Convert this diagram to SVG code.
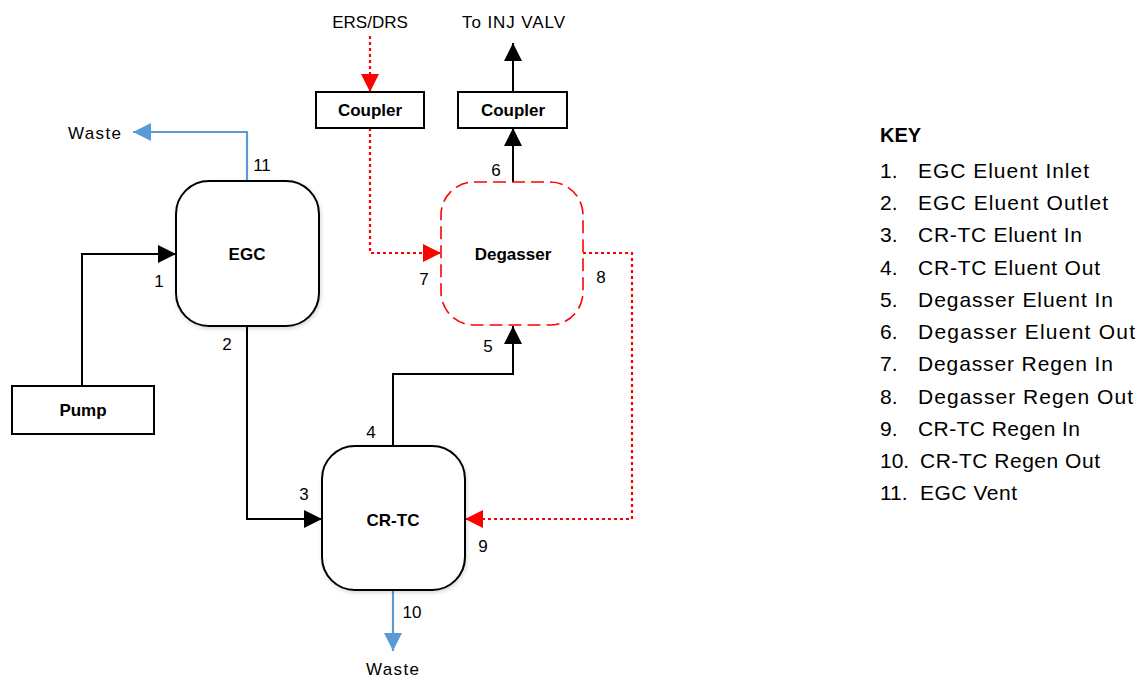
<svg xmlns="http://www.w3.org/2000/svg" width="1141" height="679" viewBox="0 0 1141 679">
<defs>
<style>
text{font-family:"Liberation Sans",Arial,sans-serif;fill:#000}
.lbl{font-size:17px}
.node{font-size:17px;font-weight:bold;text-anchor:middle}
.key{font-size:21px}
.blk{fill:none;stroke:#000;stroke-width:2}
.red{fill:none;stroke:#FF0000;stroke-width:2.2;stroke-dasharray:3 3}
.blu{fill:none;stroke:#5B9BD5;stroke-width:2.2}
.box{fill:#fff;stroke:#000;stroke-width:2}
</style>
<marker id="ab" markerUnits="userSpaceOnUse" markerWidth="20" markerHeight="20" refX="18" refY="9" orient="auto"><path d="M0,0 L18,9 L0,18 z" fill="#000"/></marker>
<marker id="ar" markerUnits="userSpaceOnUse" markerWidth="20" markerHeight="20" refX="18" refY="9" orient="auto"><path d="M0,0 L18,9 L0,18 z" fill="#FF0000"/></marker>
<marker id="au" markerUnits="userSpaceOnUse" markerWidth="20" markerHeight="20" refX="18" refY="9" orient="auto"><path d="M0,0 L18,9 L0,18 z" fill="#5B9BD5"/></marker>
<filter id="sh" x="-10%" y="-10%" width="120%" height="120%"><feGaussianBlur in="SourceAlpha" stdDeviation="2"/><feOffset dx="1" dy="2"/><feComponentTransfer><feFuncA type="linear" slope="0.15"/></feComponentTransfer><feMerge><feMergeNode/><feMergeNode in="SourceGraphic"/></feMerge></filter>
</defs>
<rect width="1141" height="679" fill="#fff"/>

<g id="connectors">
<path class="blk" d="M82,386 V254 H176" marker-end="url(#ab)"/>
<path class="blu" d="M247,181 V132 H133" marker-end="url(#au)"/>
<path class="blk" d="M247,326 V519 H322" marker-end="url(#ab)"/>
<path class="blk" d="M393,446 V374 H513 V326" marker-end="url(#ab)"/>
<path class="blu" d="M393,590 V651" marker-end="url(#au)"/>
<path class="red" d="M583,253 H632 V519 H465" marker-end="url(#ar)"/>
<path class="red" d="M370,36 V92" marker-end="url(#ar)"/>
<path class="red" d="M370,128 V253 H441" marker-end="url(#ar)"/>
<path class="blk" d="M513,182 V128" marker-end="url(#ab)"/>
<path class="blk" d="M513,92 V43" marker-end="url(#ab)"/>
</g>

<g id="pump"><rect class="box" x="12" y="386" width="142" height="48"/><text class="node" x="83" y="416">Pump</text></g>
<g id="egc"><rect class="box" x="176" y="181" width="143" height="145" rx="33" filter="url(#sh)"/><text class="node" x="247" y="260">EGC</text></g>
<g id="crtc"><rect class="box" x="322" y="446" width="143" height="144" rx="33" filter="url(#sh)"/><text class="node" x="393" y="526">CR-TC</text></g>
<g id="degasser"><rect x="441" y="182" width="142" height="143" rx="33" fill="#fff" stroke="#FF0000" stroke-width="1.6" stroke-dasharray="13 6"/><text class="node" x="513" y="260">Degasser</text></g>
<g id="coupler1"><rect class="box" x="316" y="92" width="108" height="36"/><text class="node" x="370" y="116">Coupler</text></g>
<g id="coupler2"><rect class="box" x="458" y="92" width="109" height="36"/><text class="node" x="513" y="116">Coupler</text></g>

<g id="labels" class="lbl">
<text x="68" y="139" textLength="53" lengthAdjust="spacing">Waste</text>
<text x="366" y="675" textLength="53" lengthAdjust="spacing">Waste</text>
<text x="370" y="28" text-anchor="middle">ERS/DRS</text>
<text x="462" y="28" textLength="103" lengthAdjust="spacing">To INJ VALV</text>
<text x="159" y="287" text-anchor="middle">1</text>
<text x="227" y="350" text-anchor="middle">2</text>
<text x="304" y="500" text-anchor="middle">3</text>
<text x="371" y="438" text-anchor="middle">4</text>
<text x="488" y="352" text-anchor="middle">5</text>
<text x="496" y="176" text-anchor="middle">6</text>
<text x="424" y="285" text-anchor="middle">7</text>
<text x="601" y="283" text-anchor="middle">8</text>
<text x="483" y="552" text-anchor="middle">9</text>
<text x="412" y="618" text-anchor="middle">10</text>
<text x="262" y="171" text-anchor="middle">11</text>
</g>

<g id="key" class="key">
<text x="880" y="142" font-weight="bold" font-size="20">KEY</text>
<text x="880" y="178">1.</text><text x="918" y="178" textLength="171" lengthAdjust="spacing">EGC Eluent Inlet</text>
<text x="880" y="210">2.</text><text x="918" y="210" textLength="190" lengthAdjust="spacing">EGC Eluent Outlet</text>
<text x="880" y="242">3.</text><text x="918" y="242" textLength="164" lengthAdjust="spacing">CR-TC Eluent In</text>
<text x="880" y="275">4.</text><text x="918" y="275" textLength="182" lengthAdjust="spacing">CR-TC Eluent Out</text>
<text x="880" y="307">5.</text><text x="918" y="307" textLength="195" lengthAdjust="spacing">Degasser Eluent In</text>
<text x="880" y="339">6.</text><text x="918" y="339" textLength="217" lengthAdjust="spacing">Degasser Eluent Out</text>
<text x="880" y="371">7.</text><text x="918" y="371" textLength="195" lengthAdjust="spacing">Degasser Regen In</text>
<text x="880" y="404">8.</text><text x="918" y="404" textLength="215" lengthAdjust="spacing">Degasser Regen Out</text>
<text x="880" y="436">9.</text><text x="918" y="436" textLength="162" lengthAdjust="spacing">CR-TC Regen In</text>
<text x="880" y="468">10.</text><text x="920" y="468" textLength="180" lengthAdjust="spacing">CR-TC Regen Out</text>
<text x="880" y="500">11.</text><text x="920" y="500" textLength="97" lengthAdjust="spacing">EGC Vent</text>
</g>
</svg>
